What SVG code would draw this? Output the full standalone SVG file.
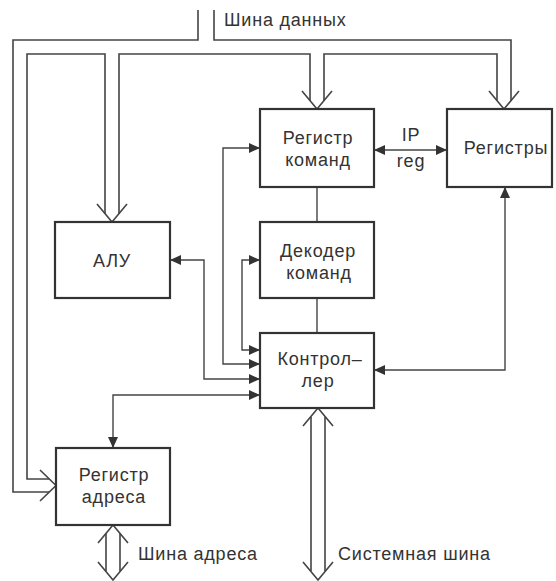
<svg xmlns="http://www.w3.org/2000/svg" width="556" height="581" viewBox="0 0 556 581">
<style>
  .box{fill:#fff;stroke:#333;stroke-width:2.2}
  .bus{fill:none;stroke:#444;stroke-width:1.6;stroke-linejoin:miter}
  .wire{fill:none;stroke:#444;stroke-width:1.4}
  text{font-family:"Liberation Sans",Arial,sans-serif;font-size:18px;letter-spacing:0.8px;fill:#333}
  .c{text-anchor:middle}
</style>
<defs>
  <marker id="arr" viewBox="0 0 11 10" refX="11" refY="5" markerWidth="11" markerHeight="10" orient="auto-start-reverse" markerUnits="userSpaceOnUse">
    <path d="M0,0 L11,5 L0,10 z" fill="#333"/>
  </marker>
</defs>
<rect width="556" height="581" fill="#fff"/>
<g id="connectors">
  <!-- data bus -->
  <path class="bus" d="M198,10 V40 H13 V492 H49"/>
  <path class="bus" d="M49,479 H27 V54 H105 V214"/>
  <path class="bus" d="M119,214 V54 H310 V101"/>
  <path class="bus" d="M324,101 V54 H497 V101"/>
  <path class="bus" d="M214,10 V40 H511 V101"/>
  <polyline class="bus" points="302,91 317,109 332,91"/>
  <polyline class="bus" points="489,91 504,109 519,91"/>
  <polyline class="bus" points="97,204 112,222 127,204"/>
  <polyline class="bus" points="40,470 56,485.5 40,501"/>
  <text x="224" y="26">Шина данных</text>
  <!-- address bus -->
  <path class="bus" d="M106,533 V571 M120,533 V571"/>
  <polyline class="bus" points="98,543 113,525 128,543"/>
  <polyline class="bus" points="98,562 113,580 128,562"/>
  <text x="138" y="560">Шина адреса</text>
  <!-- system bus -->
  <path class="bus" d="M311,417 V571 M325,417 V571"/>
  <polyline class="bus" points="303,426 318,408 333,426"/>
  <polyline class="bus" points="303,562 318,580 333,562"/>
  <text x="338" y="560">Системная шина</text>
  <!-- control wires -->
  <path class="wire" d="M374,150 H447" marker-start="url(#arr)" marker-end="url(#arr)"/>
  <text class="c" x="411" y="141">IP</text>
  <text class="c" x="411" y="167">reg</text>
  <path class="wire" d="M317,188 V222 M317,298 V333"/>
  <path class="wire" d="M505,187 V370 H374" marker-start="url(#arr)" marker-end="url(#arr)"/>
  <path class="wire" d="M260,260 H242 V350 H260" marker-start="url(#arr)" marker-end="url(#arr)"/>
  <path class="wire" d="M260,148 H223 V364 H260" marker-start="url(#arr)" marker-end="url(#arr)"/>
  <path class="wire" d="M170,260 H204 V379 H260" marker-start="url(#arr)" marker-end="url(#arr)"/>
  <path class="wire" d="M113,448 V395 H260" marker-start="url(#arr)" marker-end="url(#arr)"/>
</g>
<g id="reg-cmd">
  <rect class="box" x="260" y="109" width="114" height="78"/>
  <text class="c" x="318" y="144">Регистр</text>
  <text class="c" x="318" y="166">команд</text>
</g>
<g id="registers">
  <rect class="box" x="447" y="109" width="105" height="78"/>
  <text class="c" x="506" y="154">Регистры</text>
</g>
<g id="alu">
  <rect class="box" x="55" y="222" width="115" height="76"/>
  <text class="c" x="112" y="267">АЛУ</text>
</g>
<g id="decoder">
  <rect class="box" x="260" y="222" width="114" height="76"/>
  <text class="c" x="318" y="257">Декодер</text>
  <text class="c" x="319" y="279">команд</text>
</g>
<g id="controller">
  <rect class="box" x="260" y="333" width="114" height="75"/>
  <text class="c" x="320" y="365">Контрол–</text>
  <text class="c" x="318" y="387">лер</text>
</g>
<g id="reg-addr">
  <rect class="box" x="56" y="448" width="114" height="77"/>
  <text class="c" x="114" y="481">Регистр</text>
  <text class="c" x="114" y="503">адреса</text>
</g>
</svg>
